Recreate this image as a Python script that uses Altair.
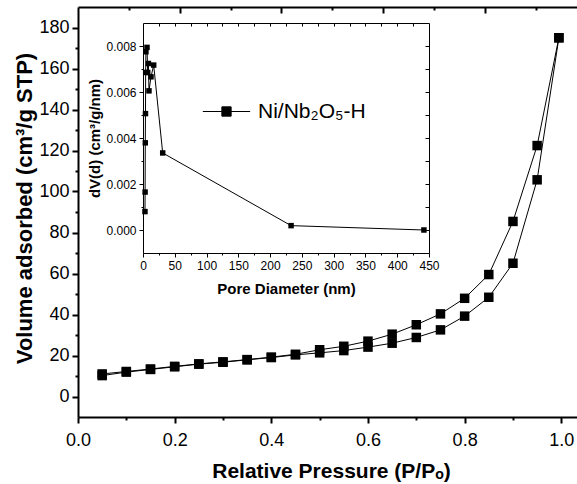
import altair as alt
import pandas as pd

# ---------------- data ----------------
pressure = [0.05, 0.10, 0.15, 0.20, 0.25, 0.30, 0.35, 0.40, 0.45, 0.50,
            0.55, 0.60, 0.65, 0.70, 0.75, 0.80, 0.85, 0.90, 0.95, 0.995]
adsorption = [10.2, 11.9, 13.2, 14.5, 15.8, 16.7, 17.9, 19.0, 20.3, 21.3,
              22.4, 24.1, 26.0, 28.8, 32.5, 39.2, 48.4, 65.0, 105.7, 175.0]
desorption = [11.0, 12.2, 13.4, 14.7, 15.9, 16.9, 18.0, 19.2, 20.6, 22.8,
              24.5, 27.0, 30.4, 35.0, 40.3, 47.9, 59.5, 85.4, 122.4, 175.0]

pore_diameter = [3.1, 3.3, 3.6, 3.9, 4.2, 4.6, 6.3, 7.4, 8.5, 9.4, 12.6, 16.8, 31.0, 233.0, 442.0]
dv_d = [0.00080, 0.00165, 0.00379, 0.00506, 0.00685, 0.00775, 0.00794, 0.00685,
        0.00724, 0.00605, 0.00666, 0.00717, 0.00335, 0.00019, 0.00000]
series_name = "Ni/Nb\u2082O\u2085-H"

# tick values
main_x_major = [0.0, 0.2, 0.4, 0.6, 0.8, 1.0]
main_x_minor = [0.1, 0.3, 0.5, 0.7, 0.9]
main_top_major = [0.2105, 0.4210, 0.6315, 0.8420]
main_top_minor = [0.1053, 0.3158, 0.5263, 0.7368, 0.9473]
main_y_major = [0, 20, 40, 60, 80, 100, 120, 140, 160, 180]
main_y_minor = [10, 30, 50, 70, 90, 110, 130, 150, 170]
inset_x_major = [0, 50, 100, 150, 200, 250, 300, 350, 400, 450]
inset_x_minor = [25, 75, 125, 175, 225, 275, 325, 375, 425]
inset_top_ticks = [25, 50, 75, 100, 125, 150, 175, 200, 225, 250, 275, 300, 325, 350, 375, 400, 425]
inset_y_major = [0.000, 0.002, 0.004, 0.006, 0.008]
inset_y_minor = [0.001, 0.003, 0.005, 0.007]
inset_right_ticks = [0.000, 0.001, 0.002, 0.003, 0.004, 0.005, 0.006, 0.007, 0.008]

# ---------------- frames ----------------
main_df = pd.DataFrame({
    "P": pressure + pressure,
    "V": adsorption + desorption,
    "branch": ["Adsorption"] * len(pressure) + ["Desorption"] * len(pressure),
})
inset_df = pd.DataFrame({"D": pore_diameter, "dV": dv_d, "series": [series_name] * len(dv_d)})

W, H = 499, 410
FONT = "Liberation Sans"

main_x_dom = [0, 1.0325]
main_y_dom = [-10, 190]
inset_x_dom = [0, 450]
inset_y_dom = [-0.001, 0.009]
inset_x_rng = [65, 351]
inset_y_rng = [246, 16]


def mx():
    return alt.Scale(domain=main_x_dom, nice=False, zero=False)


def my():
    return alt.Scale(domain=main_y_dom, nice=False, zero=False)


def ix():
    return alt.Scale(domain=inset_x_dom, range=inset_x_rng, nice=False, zero=False)


def iy():
    return alt.Scale(domain=inset_y_dom, range=inset_y_rng, nice=False, zero=False)


def tick_axis(orient, values, size, width, offset=0, domain=False, domain_width=1):
    return alt.Axis(orient=orient, values=values, offset=offset, labels=False,
                    ticks=True, tickSize=size, tickWidth=width, tickColor="black",
                    domain=domain, domainColor="black", domainWidth=domain_width,
                    grid=False, title=None)


# main axes
ax_main_x = alt.Axis(orient="bottom", values=main_x_major, format=".1f",
                     domain=True, domainColor="black", domainWidth=2,
                     ticks=True, tickSize=6, tickWidth=2, tickColor="black",
                     labelFont=FONT, labelFontSize=18, labelColor="black", labelPadding=8,
                     labelFlush=False, labelOverlap=False, grid=False,
                     title="Relative Pressure (P/P\u2092)", titleFont=FONT, titleFontSize=21,
                     titleFontWeight="bold", titleColor="black", titleX=253, titleY=60,
                     titleAlign="center", titleBaseline="alphabetic")
ax_main_y = alt.Axis(orient="left", values=main_y_major, format="d",
                     domain=True, domainColor="black", domainWidth=2,
                     ticks=True, tickSize=6, tickWidth=2, tickColor="black",
                     labelFont=FONT, labelFontSize=18, labelColor="black", labelPadding=3,
                     labelFlush=False, labelOverlap=False, grid=False,
                     title="Volume adsorbed (cm\u00b3/g STP)", titleFont=FONT, titleFontSize=22,
                     titleFontWeight="bold", titleColor="black", titleAngle=270,
                     titleX=-47, titleY=201, titleAlign="center", titleBaseline="alphabetic")

ax_inset_x = alt.Axis(orient="bottom", offset=-(H - inset_y_rng[0]), values=inset_x_major, format="d",
                      domain=True, domainColor="black", domainWidth=1,
                      ticks=True, tickSize=4, tickWidth=1, tickColor="black",
                      labelFont=FONT, labelFontSize=12, labelColor="black", labelPadding=3,
                      labelFlush=False, labelOverlap=False, grid=False,
                      title="Pore Diameter (nm)", titleFont=FONT, titleFontSize=15,
                      titleFontWeight="bold", titleColor="black", titleX=208, titleY=40,
                      titleAlign="center", titleBaseline="alphabetic")
ax_inset_y = alt.Axis(orient="left", offset=-inset_x_rng[0], values=inset_y_major, format=".3f",
                      domain=True, domainColor="black", domainWidth=1,
                      ticks=True, tickSize=4, tickWidth=1, tickColor="black",
                      labelFont=FONT, labelFontSize=12, labelColor="black", labelPadding=3,
                      labelFlush=False, labelOverlap=False, grid=False,
                      title="dV(d) (cm\u00b3/g/nm)", titleFont=FONT, titleFontSize=15,
                      titleFontWeight="bold", titleColor="black", titleAngle=270,
                      titleX=-44, titleY=131, titleAlign="center", titleBaseline="alphabetic")

legend = alt.Legend(orient="none", legendX=138, legendY=94, title=None,
                    symbolType="M-5.1,0H-1M1,0H5.1M-1,-1H1V1H-1Z", symbolSize=86,
                    symbolFillColor="black", symbolStrokeColor="black", symbolStrokeWidth=1,
                    symbolOpacity=1,
                    labelFont=FONT, labelFontSize=21, labelColor="black", labelOffset=21,
                    padding=0)

base_main = alt.Chart(main_df)
base_inset = alt.Chart(inset_df)

main_line = base_main.mark_line(color="black", strokeWidth=1).encode(
    x=alt.X("P:Q", scale=mx(), axis=ax_main_x),
    y=alt.Y("V:Q", scale=my(), axis=ax_main_y),
    detail="branch:N",
)
main_pts = base_main.mark_square(color="black", size=90, opacity=1).encode(
    x=alt.X("P:Q", scale=mx(), axis=tick_axis("bottom", main_x_minor, 3, 2)),
    y=alt.Y("V:Q", scale=my(), axis=tick_axis("left", main_y_minor, 3, 2)),
)
main_top1 = base_main.mark_point(opacity=0).encode(
    x=alt.X("P:Q", scale=mx(), axis=tick_axis("bottom", main_top_major, 6, 2, offset=-H,
                                             domain=True, domain_width=2)),
    y=alt.Y("V:Q", scale=my(), axis=None),
)
main_top2 = base_main.mark_point(opacity=0).encode(
    x=alt.X("P:Q", scale=mx(), axis=tick_axis("bottom", main_top_minor, 3, 2, offset=-H)),
    y=alt.Y("V:Q", scale=my(), axis=None),
)

inset_line = base_inset.mark_line(color="black", strokeWidth=1).encode(
    x=alt.X("D:Q", scale=ix(), axis=ax_inset_x),
    y=alt.Y("dV:Q", scale=iy(), axis=ax_inset_y),
)
inset_pts = base_inset.mark_square(size=30, opacity=1).encode(
    x=alt.X("D:Q", scale=ix(), axis=tick_axis("bottom", inset_x_minor, 2, 1,
                                             offset=-(H - inset_y_rng[0]))),
    y=alt.Y("dV:Q", scale=iy(), axis=tick_axis("left", inset_y_minor, 2, 1,
                                              offset=-inset_x_rng[0])),
    color=alt.Color("series:N", scale=alt.Scale(range=["black"]), legend=legend),
)
inset_frame = base_inset.mark_point(opacity=0).encode(
    x=alt.X("D:Q", scale=ix(), axis=tick_axis("bottom", inset_top_ticks, 3, 1,
                                             offset=-(H - inset_y_rng[1]), domain=True)),
    y=alt.Y("dV:Q", scale=iy(), axis=tick_axis("left", inset_right_ticks, 4, 1,
                                              offset=-inset_x_rng[1], domain=True)),
)

chart = alt.layer(
    main_line, main_pts, main_top1, main_top2, inset_line, inset_pts, inset_frame
).resolve_scale(
    x="independent", y="independent"
).resolve_axis(
    x="independent", y="independent"
).properties(
    width=W, height=H,
    padding={"left": 78, "top": 7, "right": 0, "bottom": 67},
    autosize=alt.AutoSizeParams(type="none"),
    background="white",
).configure_view(stroke=None)

chart.save("out.html", embed_options={"renderer": "svg", "actions": False})
